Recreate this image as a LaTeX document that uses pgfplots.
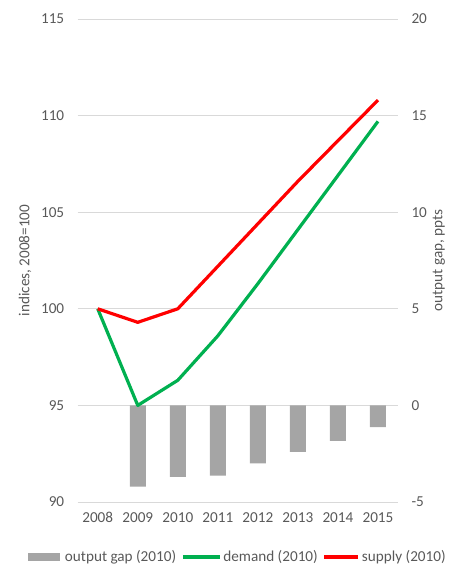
\documentclass[border=0pt]{standalone}
\usepackage{pgfplots}
\pgfplotsset{compat=1.18}
\usepackage{fontspec}
\setmainfont{Carlito}
\definecolor{txt}{RGB}{89,89,89}
\definecolor{gridc}{RGB}{217,217,217}
\definecolor{barc}{RGB}{165,165,165}
\definecolor{grn}{RGB}{0,176,80}
\definecolor{rd}{RGB}{255,0,0}
\begin{document}
\begin{tikzpicture}[font=\fontsize{15.2}{18}\selectfont]
\pgfplotsset{common/.style={
  scale only axis, width=320.3pt, height=483pt,
  xmin=-0.5, xmax=7.5,
  axis line style={draw=none},
  major tick length=0pt,
  tick label style={text=txt},
  label style={text=txt},
  /pgf/number format/assume math mode=true,
}}
\begin{axis}[common,
  axis y line*=right,
  ymin=-5, ymax=20, ytick={-5,0,5,10,15,20},
  ymajorgrids, grid style={gridc, line width=0.8pt},
  xtick={0,...,7},
  xticklabels={2008,2009,2010,2011,2012,2013,2014,2015},
  xticklabel style={yshift=-7pt},
  yticklabel style={xshift=10pt},
  ylabel={output gap, ppts},
  ylabel style={at={(axis description cs:1.128,0.5)}, anchor=center, rotate=0},
]
\addplot[ybar, bar width=16pt, fill=barc, draw=none] coordinates {
 (1,-4.2) (2,-3.7) (3,-3.64) (4,-3.0) (5,-2.4) (6,-1.84) (7,-1.12)};
\end{axis}
\begin{axis}[common, name=ax,
  axis y line*=left,
  ymin=90, ymax=115, ytick={90,95,100,105,110,115},
  xtick=\empty,
  yticklabel style={xshift=-10pt},
  ylabel={indices, 2008=100},
  ylabel style={at={(axis description cs:-0.1645,0.5)}, anchor=center},
  legend columns=3,
  legend style={at={(axis description cs:0.5,-0.114)}, anchor=center, draw=none, fill=none,
    font=\fontsize{15.2}{18}\selectfont, text=txt,
    /tikz/every even column/.append style={column sep=3pt}},
]
\addlegendimage{legend image code/.code={\fill[barc, draw=none] (0pt,-4pt) rectangle (32pt,4pt);\path[draw=none, fill=none] (0pt,0pt) rectangle (35pt,0pt);}}
\addlegendentry{output gap (2010)}
\addplot[grn, line width=3.2pt, line join=round,
  legend image code/.code={\draw[grn, line width=3.2pt] (0pt,0pt) -- (37pt,0pt);}]
  coordinates {(0,100) (1,95.0) (2,96.3) (3,98.6) (4,101.3) (5,104.1) (6,106.9) (7,109.7)};
\addlegendentry{demand (2010)}
\addplot[rd, line width=3.2pt, line join=round,
  legend image code/.code={\draw[rd, line width=3.2pt] (0pt,0pt) -- (34pt,0pt);}]
  coordinates {(0,100) (1,99.3) (2,100.0) (3,102.2) (4,104.4) (5,106.6) (6,108.7) (7,110.8)};
\addlegendentry{supply (2010)}
\end{axis}
\pgfresetboundingbox
\path ([xshift=-77.7pt,yshift=-80pt]ax.south west) rectangle ([xshift=68pt,yshift=19pt]ax.north east);
\end{tikzpicture}
\end{document}
